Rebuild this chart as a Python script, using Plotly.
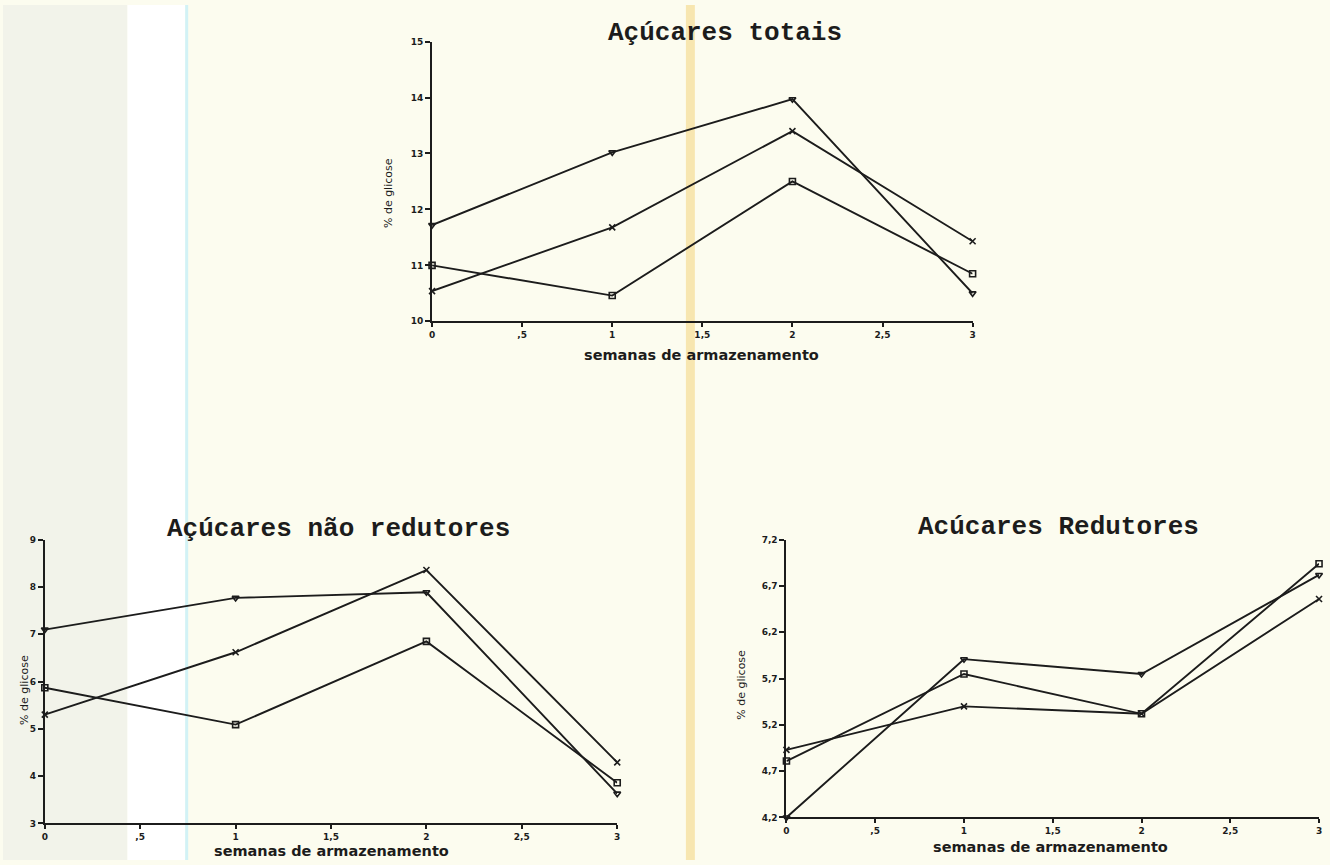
import plotly.graph_objects as go

# ---------------- data ----------------
weeks = [0, 1, 2, 3]
x_tickvals = [0, 0.5, 1, 1.5, 2, 2.5, 3]
x_ticktext = ["0", ",5", "1", "1,5", "2", "2,5", "3"]

totais_a = [11.72, 13.02, 13.97, 10.50]
totais_b = [10.54, 11.68, 13.40, 11.43]
totais_c = [11.00, 10.46, 12.50, 10.85]
totais_ticks = [10, 11, 12, 13, 14, 15]
totais_ticktext = ["10", "11", "12", "13", "14", "15"]

nao_red_a = [7.10, 7.77, 7.89, 3.63]
nao_red_b = [5.30, 6.62, 8.36, 4.29]
nao_red_c = [5.87, 5.09, 6.85, 3.86]
nao_red_ticks = [3, 4, 5, 6, 7, 8, 9]
nao_red_ticktext = ["3", "4", "5", "6", "7", "8", "9"]

red_a = [4.20, 5.91, 5.75, 6.82]
red_b = [4.93, 5.40, 5.32, 6.56]
red_c = [4.81, 5.75, 5.32, 6.94]
red_ticks = [4.2, 4.7, 5.2, 5.7, 6.2, 6.7, 7.2]
red_ticktext = ["4,2", "4,7", "5,2", "5,7", "6,2", "6,7", "7,2"]

titles = ["Açúcares totais", "Açúcares não redutores", "Acúcares Redutores"]
x_title = "semanas de armazenamento"
y_title = "% de glicose"

# ---------------- layout helpers ----------------
W, H = 1330, 865
def px(x):
    return x / W
def py(y):
    return 1 - y / H

INK = "#1c1c1c"
LINE_W = 1.9
symbols = ["triangle-down-open", "x-thin-open", "square-open"]

fig = go.Figure()

panels = [
    ("x", "y", [totais_a, totais_b, totais_c]),
    ("x2", "y2", [nao_red_a, nao_red_b, nao_red_c]),
    ("x3", "y3", [red_a, red_b, red_c]),
]
for xa, ya, series in panels:
    for s, sym in zip(series, symbols):
        fig.add_trace(go.Scatter(
            x=weeks, y=s, xaxis=xa, yaxis=ya, mode="lines+markers",
            line=dict(color=INK, width=LINE_W),
            marker=dict(symbol=sym, size=6, color=INK, line=dict(color=INK, width=1.6)),
            cliponaxis=False, showlegend=False, hoverinfo="skip"))

tick_font = dict(family="DejaVu Sans", size=9, color=INK, weight="bold")

def xaxis(domain, anchor):
    return dict(domain=domain, anchor=anchor, range=[0, 3], tickvals=x_tickvals,
                ticktext=x_ticktext, ticks="outside", ticklen=4, tickwidth=1.5,
                tickcolor=INK, showline=True, linecolor=INK, linewidth=2,
                showgrid=False, zeroline=False, tickfont=tick_font, fixedrange=True)

def yaxis(domain, anchor, rng, tv, tt):
    return dict(domain=domain, anchor=anchor, range=rng, tickvals=tv, ticktext=tt,
                ticks="outside", ticklen=5, tickwidth=1.5, tickcolor=INK,
                showline=True, linecolor=INK, linewidth=2, showgrid=False,
                zeroline=False, tickfont=tick_font, fixedrange=True)

fig.update_layout(
    width=W, height=H, autosize=False, margin=dict(l=0, r=0, t=0, b=0, pad=0),
    paper_bgcolor="#FCFCEF", plot_bgcolor="rgba(0,0,0,0)",
    xaxis=xaxis([px(431), px(974)], "y"),
    yaxis=yaxis([py(320), py(37)], "x", [10, 15], totais_ticks, totais_ticktext),
    xaxis2=xaxis([px(42), px(617)], "y2"),
    yaxis2=yaxis([py(828), py(541)], "x2", [3, 9], nao_red_ticks, nao_red_ticktext),
    xaxis3=xaxis([px(787), px(1322)], "y3"),
    yaxis3=yaxis([py(822), py(541)], "x3", [4.2, 7.2], red_ticks, red_ticktext),
)

# scanned-paper background streaks
fig.add_shape(type="rect", xref="paper", yref="paper", x0=0, x1=px(125), y0=0, y1=1,
              fillcolor="#F2F3EA", line_width=0, layer="below")
fig.add_shape(type="rect", xref="paper", yref="paper", x0=px(125), x1=px(183), y0=0, y1=1,
              fillcolor="#FFFFFF", line_width=0, layer="below")
fig.add_shape(type="rect", xref="paper", yref="paper", x0=px(183), x1=px(186), y0=0, y1=1,
              fillcolor="#D2F2F6", line_width=0, layer="below")
fig.add_shape(type="rect", xref="paper", yref="paper", x0=px(686), x1=px(695), y0=0, y1=1,
              fillcolor="#F7E6B0", line_width=0, layer="below")

title_font = dict(family="Liberation Mono", size=26, color=INK, weight="bold")
axis_title_font = dict(family="DejaVu Sans", size=14.5, color=INK, weight="bold")
ytitle_font = dict(family="DejaVu Sans", size=11, color=INK)

annots = [
    (725, 28, titles[0], title_font, 0),
    (337, 530, titles[1], title_font, 0),
    (1060, 528, titles[2], title_font, 0),
    (702, 354, x_title, axis_title_font, 0),
    (330, 856, x_title, axis_title_font, 0),
    (1052, 852, x_title, axis_title_font, 0),
    (388, 190, y_title, ytitle_font, -90),
    (22, 693, y_title, ytitle_font, -90),
    (741, 688, y_title, ytitle_font, -90),
]
for x, y, t, f, ang in annots:
    fig.add_annotation(x=px(x), y=py(y), xref="paper", yref="paper", text=t,
                       showarrow=False, font=f, textangle=ang,
                       xanchor="center", yanchor="middle")

fig.write_html("out.html", config={"displayModeBar": False, "responsive": False},
               post_script="document.body.style.margin='0';document.body.style.overflow='hidden';")
